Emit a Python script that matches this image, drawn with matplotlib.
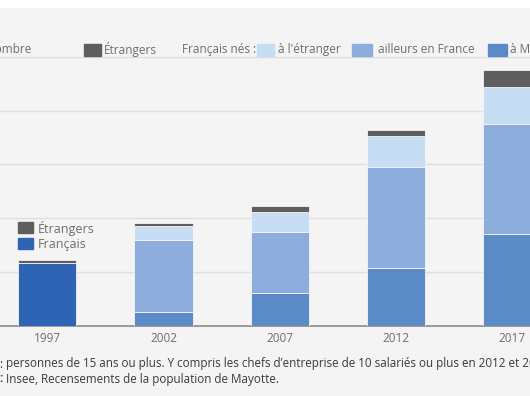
import numpy as np
import matplotlib.pyplot as plt
from matplotlib.patches import Rectangle

plt.rcParams['font.family'] = ['Open Sans', 'DejaVu Sans']

# data (persons)
years = ['1997', '2002', '2007', '2012', '2017']
francais_1997 = [11600, 0, 0, 0, 0]
nes_mayotte = [0, 2600, 6000, 10800, 17000]
nes_ailleurs = [0, 13300, 11500, 18800, 20500]
nes_etranger = [0, 2700, 3700, 5700, 6900]
etrangers = [600, 600, 1000, 1200, 3100]

# colours
bg = '#f4f4f4'
c_etr = '#5e5e5e'
c_light = '#c6ddf4'
c_mid = '#8daedd'
c_dark = '#5b8bc7'
c_fr = '#2f64b5'
txt = '#6e6e6e'

W, H = 530, 396
fig = plt.figure(figsize=(W / 100, H / 100), dpi=100, facecolor=bg)

def px(x, y):
    # figure pixel -> figure fraction
    return x / W, 1 - y / H

# axes placed so the plot runs off both sides like the reference crop
y0, y1 = 325.7, 57
ax = fig.add_axes([0, 1 - y0 / H, 1, (y0 - y1) / H])
ax.set_facecolor(bg)
x = np.arange(len(years))
step = 116.3
ax.set_xlim(-47.2 / step, (W - 47.2) / step)
ax.set_ylim(0, 50000)
ax.set_yticks(np.arange(0, 50001, 10000))
ax.yaxis.grid(True, color='#dedede', lw=1)
ax.set_axisbelow(True)
for s in ['top', 'left', 'right']:
    ax.spines[s].set_visible(False)
ax.spines['bottom'].set_color('#8a8a8a')
ax.spines['bottom'].set_linewidth(1.2)
ax.tick_params(axis='y', left=False, labelleft=False)
ax.tick_params(axis='x', length=0, pad=4.5, labelsize=8.5, labelcolor=txt)
ax.set_xticks(x)
ax.set_xticklabels(years)

w = 0.5
bottom = np.zeros(len(years))
for vals, col in [(francais_1997, c_fr), (nes_mayotte, c_dark),
                  (nes_ailleurs, c_mid), (nes_etranger, c_light),
                  (etrangers, c_etr)]:
    ax.bar(x, vals, w, bottom=bottom, color=col, edgecolor=bg, linewidth=0.6, zorder=3)
    bottom += np.array(vals)

# white strip on top
fig.patches.append(Rectangle((0, 1 - 7 / H), 1, 7 / H, transform=fig.transFigure,
                             color='white', zorder=0))

def patch(xp, yp, col, wp=17, hp=12):
    fx, fy = px(xp, yp + hp)
    fig.patches.append(Rectangle((fx, fy), wp / W, hp / H, transform=fig.transFigure,
                                 color=col, zorder=5))

# top legend
ly = 49.5
fig.text(*px(32, ly), 'Nombre', ha='right', va='center', fontsize=8.5, color=txt)
patch(83.5, 43.5, c_etr)
fig.text(*px(104, ly), 'Étrangers', va='center', fontsize=8.5, color=txt)
fig.text(*px(181.5, ly), 'Français nés :', va='center', fontsize=8.5, color=txt)
patch(256.5, 43.5, c_light)
fig.text(*px(278, ly), "à l'étranger", va='center', fontsize=8.5, color=txt)
patch(352, 43.5, c_mid, wp=20)
fig.text(*px(377.5, ly), 'ailleurs en France', va='center', fontsize=8.5, color=txt)
patch(488, 43.5, c_dark, wp=18.5)
fig.text(*px(510, ly), 'à Mayotte', va='center', fontsize=8.5, color=txt)

# inner legend for 1997
patch(17.7, 221.7, c_etr, wp=15.6, hp=11.6)
fig.text(*px(37.5, 228), 'Étrangers', va='center', fontsize=9, color=txt)
patch(17.7, 238.3, c_fr, wp=15.6, hp=10.5)
fig.text(*px(37.5, 244.5), 'Français', va='center', fontsize=9, color=txt)

# footer
ft = '#3a3a3a'
fig.text(*px(-1, 364), ':', va='center', fontsize=8.4, color=ft)
fig.text(*px(6.5, 364),
         "personnes de 15 ans ou plus. Y compris les chefs d’entreprise de 10 salariés ou plus en 2012 et 2017.",
         va='center', fontsize=8.4, color=ft)
fig.text(*px(-1, 379), ':', va='center', fontsize=8.4, color=ft, fontweight='bold')
fig.text(*px(6.5, 379), 'Insee, Recensements de la population de Mayotte.',
         va='center', fontsize=8.4, color=ft)

fig.savefig('out.png', dpi=100, facecolor=bg)
